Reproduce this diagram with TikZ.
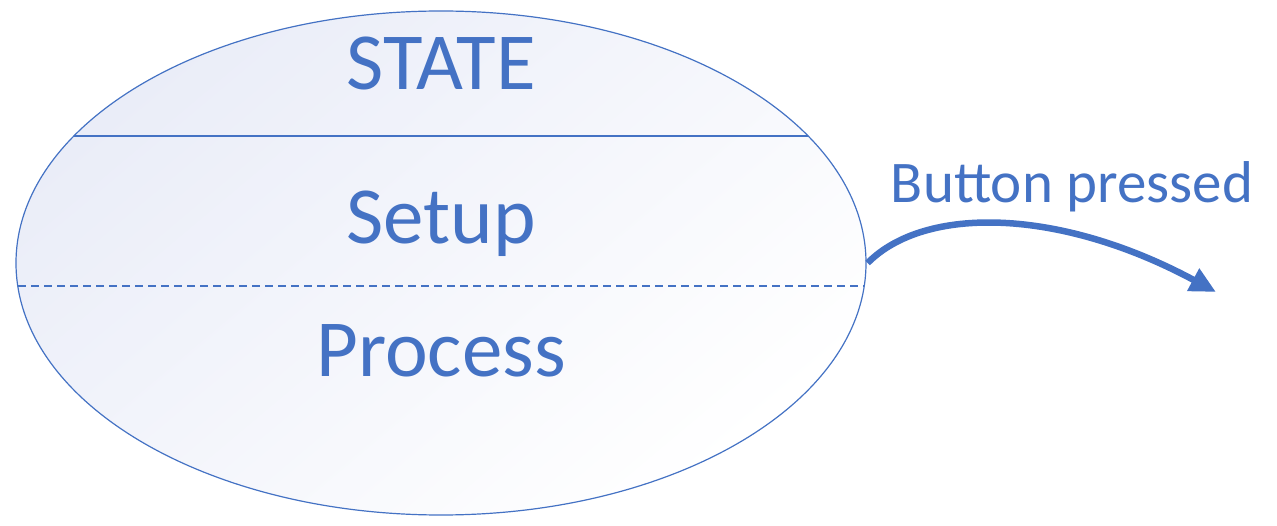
\documentclass[tikz,border=0pt]{standalone}
\usepackage{fontspec}
\setmainfont{Carlito}
\usetikzlibrary{shapes.geometric,arrows.meta}
\definecolor{ublue}{HTML}{4472C4}
\definecolor{ufill}{HTML}{EAEDF8}
\tikzset{
  lbl/.style={text=ublue, inner sep=0pt, anchor=base},
  divline/.style={draw=ublue, line width=1.3pt},
}
\begin{document}
\begin{tikzpicture}[x=1pt,y=-1pt]
\useasboundingbox (0,0) rectangle (1277,526);
\node[ellipse, draw=ublue, line width=1.2pt, minimum width=850pt, minimum height=504pt, inner sep=0pt,
  shading=axis, top color=ufill, bottom color=white, shading angle=40] (st) at (441,263) {};
\coordinate (a1) at (74,136);
\coordinate (a2) at (808,136);
\coordinate (b1) at (18,286);
\coordinate (b2) at (864,286);
\draw[divline] (a1) -- (a2);
\draw[divline, dash pattern=on 8pt off 5pt] (b1) -- (b2);
\node[lbl, font=\fontsize{81}{84}\selectfont] (t1) at (441,90) {STATE};
\node[lbl, font=\fontsize{81}{84}\selectfont] (t2) at (441,244) {Setup};
\node[lbl, font=\fontsize{81}{84}\selectfont] (t3) at (441,377) {Process};
\node[lbl, font=\fontsize{59}{62}\selectfont] (t4) at (1072,203) {Button pressed};
\coordinate (e) at (1216,292);
\draw[ublue, line width=6.5pt, -{Triangle[length=26pt,width=24pt]}]
  ([xshift=1pt]st.east) .. controls (925,205) and (1060,208) .. (e);
\end{tikzpicture}
\end{document}
